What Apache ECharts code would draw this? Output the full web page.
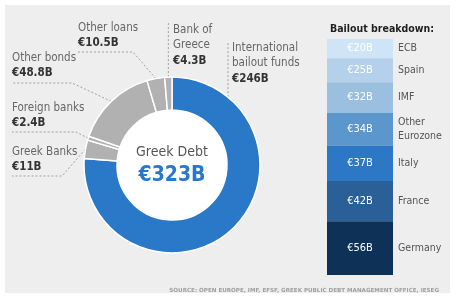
<!DOCTYPE html>
<html>
<head>
<meta charset="utf-8">
<script src="https://cdn.jsdelivr.net/npm/echarts@6/dist/echarts.min.js"></script>
<style>
  html, body { margin: 0; padding: 0; background: #ffffff; }
  #card { position: absolute; left: 5px; top: 5px; width: 445px; height: 288px; background: #eeeeee; }
  #chart { position: absolute; left: 0; top: 0; width: 460px; height: 300px; }
</style>
</head>
<body>
<div id="card"></div>
<div id="chart"></div>
<script>
// ---- data ----
const debtNames = ['International\nbailout funds', 'Greek Banks', 'Foreign banks', 'Other bonds', 'Other loans', 'Bank of\nGreece'];
const debtValues = [246, 11, 2.4, 48.8, 10.5, 4.3];
const debtValueLabels = ['€246B', '€11B', '€2.4B', '€48.8B', '€10.5B', '€4.3B'];
const totalTitle = 'Greek Debt';
const totalLabel = '€323B';

const bailoutNames = ['ECB', 'Spain', 'IMF', 'Other\nEurozone', 'Italy', 'France', 'Germany'];
const bailoutValues = [20, 25, 32, 34, 37, 42, 56];
const bailoutValueLabels = ['€20B', '€25B', '€32B', '€34B', '€37B', '€42B', '€56B'];
const bailoutTitle = 'Bailout breakdown:';
const sourceText = 'SOURCE: OPEN EUROPE, IMF, EFSF, GREEK PUBLIC DEBT MANAGEMENT OFFICE, IESEG';

// ---- styles / layout ----
const NARROW = '"Liberation Sans Narrow", "DejaVu Sans Condensed", sans-serif';
const CX = 172, CY = 165, R_IN = 55, R_OUT = 88;
const debtColors = ['#2a78c8', '#b1b1b1', '#b1b1b1', '#b1b1b1', '#b1b1b1', '#b1b1b1'];
const bailoutColors = ['#cfe4f7', '#b5d0ea', '#9bbfde', '#5b96cc', '#2c78c6', '#2a5f98', '#0e3257'];

// label placement (top-left of text block) and leader-line bends
const labelPlace = [
  { x: 232, y: 40, line: 'vertical', lineX: 228, topY: 42 },
  { x: 12, y: 144, bend: [62, 176], end: [12, 176] },
  { x: 12, y: 100, bend: [76, 132], end: [12, 132] },
  { x: 12, y: 50, bend: [72, 83], end: [12, 83] },
  { x: 78, y: 20, bend: [133, 52], end: [78, 52] },
  { x: 173, y: 22, line: 'vertical', topY: 23 }
];

const debtTotal = debtValues.reduce((a, b) => a + b, 0);
function midPoint(i) {
  let c = 0;
  for (let k = 0; k < i; k++) c += debtValues[k];
  const a = (c + debtValues[i] / 2) / debtTotal * Math.PI * 2;
  return [CX + R_OUT * Math.sin(a), CY - R_OUT * Math.cos(a)];
}

const chart = echarts.init(document.getElementById('chart'), null, { renderer: 'canvas' });

const barSeries = [];
bailoutValues.forEach((v, i) => {
  barSeries.push({
    type: 'bar', name: bailoutNames[i], stack: 'bail', xAxisIndex: 0, yAxisIndex: 0,
    data: [v], barWidth: '100%', silent: true,
    itemStyle: { color: bailoutColors[i] },
    label: {
      show: true, position: 'inside', formatter: bailoutValueLabels[i],
      color: '#ffffff', fontFamily: NARROW, fontSize: 11
    }
  });
});
bailoutValues.forEach((v, i) => {
  barSeries.push({
    type: 'bar', name: bailoutNames[i], stack: 'names', xAxisIndex: 1, yAxisIndex: 1,
    data: [v], barWidth: '100%', silent: true,
    itemStyle: { color: 'rgba(0,0,0,0)' },
    label: {
      show: true, position: 'right', distance: 5, formatter: '{a}',
      color: '#555555', fontFamily: NARROW, fontSize: 10.5, lineHeight: 14, align: 'left'
    }
  });
});

const option = {
  animation: false,
  backgroundColor: 'transparent',
  title: [
    { text: bailoutTitle, left: 325, top: 19,
      textStyle: { fontFamily: NARROW, fontSize: 10.5, fontWeight: 'bold', color: '#1e1e1e' } },
    { text: sourceText, right: 16, top: 283,
      textStyle: { fontFamily: '"DejaVu Sans", sans-serif', fontSize: 5.6, fontWeight: 'bold', color: '#a0a0a0' } }
  ],
  grid: [
    { left: 327, top: 39, width: 66, height: 236 },
    { left: 327, top: 39, width: 66, height: 236 }
  ],
  xAxis: [
    { type: 'category', gridIndex: 0, data: ['Bailout'], show: false },
    { type: 'category', gridIndex: 1, data: ['Bailout'], show: false }
  ],
  yAxis: [
    { type: 'value', gridIndex: 0, min: 0, max: bailoutValues.reduce((a, b) => a + b, 0), inverse: true, show: false },
    { type: 'value', gridIndex: 1, min: 0, max: bailoutValues.reduce((a, b) => a + b, 0), inverse: true, show: false }
  ],
  series: [
    {
      type: 'pie', center: [CX, CY], radius: [R_IN, R_OUT], startAngle: 90, clockwise: true,
      silent: true, avoidLabelOverlap: false,
      itemStyle: { borderColor: '#ffffff', borderWidth: 1.5 },
      data: debtValues.map((v, i) => ({ value: v, name: debtNames[i], itemStyle: { color: debtColors[i] } })),
      label: {
        show: true, position: 'outside',
        formatter: (p) => '{n|' + debtNames[p.dataIndex] + '}\n{v|' + debtValueLabels[p.dataIndex] + '}',
        rich: {
          n: { fontFamily: NARROW, fontSize: 11.5, color: '#666666', lineHeight: 15.5 },
          v: { fontFamily: NARROW, fontSize: 11.5, fontWeight: 'bold', color: '#333333', lineHeight: 15.5 }
        }
      },
      labelLine: { show: true, lineStyle: { color: '#999999', width: 0.9, type: [2, 2] } },
      labelLayout: (p) => {
        const i = p.dataIndex;
        const L = labelPlace[i];
        let pts;
        if (L.line === 'vertical') {
          if (L.lineX != null) {
            const y = CY - Math.sqrt(R_OUT * R_OUT - (L.lineX - CX) * (L.lineX - CX));
            pts = [[L.lineX, y], [L.lineX, L.topY]];
          } else {
            const s = midPoint(i);
            pts = [s, [s[0], L.topY]];
          }
        } else {
          pts = [midPoint(i), L.bend, L.end];
        }
        return { x: L.x, y: L.y, align: 'left', verticalAlign: 'top', labelLinePoints: pts };
      }
    },
    {
      type: 'pie', center: [CX, CY], radius: [0, R_IN - 0.5], silent: true,
      itemStyle: { color: '#ffffff' },
      data: [{ value: 1, name: totalTitle }],
      label: {
        show: true, position: 'center',
        formatter: '{a|' + totalTitle + '}\n{b|' + totalLabel + '}',
        rich: {
          a: { fontFamily: NARROW, fontSize: 14, color: '#555555', lineHeight: 22 },
          b: { fontFamily: NARROW, fontSize: 21, fontWeight: 'bold', color: '#2a78c8', lineHeight: 26 }
        }
      },
      labelLine: { show: false }
    }
  ].concat(barSeries)
};
chart.setOption(option);
</script>
</body>
</html>
